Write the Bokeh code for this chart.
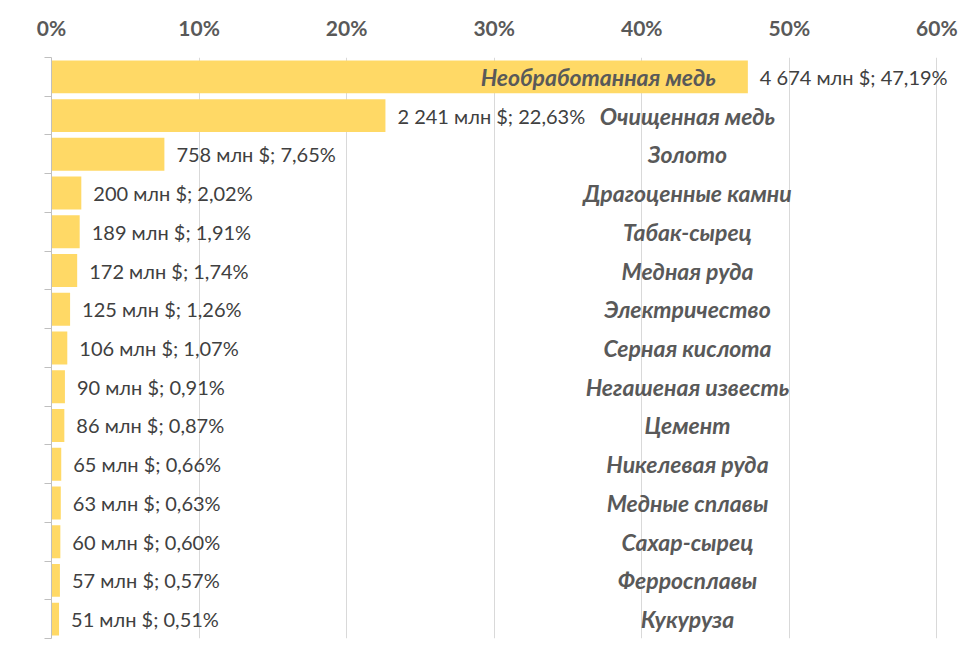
from bokeh.plotting import figure
from bokeh.models import ColumnDataSource, Range1d, FixedTicker, PrintfTickFormatter, LinearAxis
from bokeh.embed import file_html
from bokeh.resources import INLINE
from bokeh.core.properties import value

categories = ["Необработанная медь", "Очищенная медь", "Золото", "Драгоценные камни",
              "Табак-сырец", "Медная руда", "Электричество", "Серная кислота",
              "Негашеная известь", "Цемент", "Никелевая руда", "Медные сплавы",
              "Сахар-сырец", "Ферросплавы", "Кукуруза"]
values_mln = ["4 674", "2 241", "758", "200", "189", "172", "125", "106",
              "90", "86", "65", "63", "60", "57", "51"]
shares = [47.19, 22.63, 7.65, 2.02, 1.91, 1.74, 1.26, 1.07, 0.91, 0.87, 0.66, 0.63, 0.60, 0.57, 0.51]
x_ticks = [0, 10, 20, 30, 40, 50, 60]

FONT = "Lato"
n = len(categories)
ypos = list(range(1, n + 1))
labels = [f"{v} млн $; {('%.2f' % s).replace('.', ',')}%" for v, s in zip(values_mln, shares)]

src = ColumnDataSource(dict(y=ypos, share=shares, lab=labels, cat=categories))
src_first = ColumnDataSource(dict(y=ypos[:1], share=shares[:1], cat=categories[:1]))
src_rest = ColumnDataSource(dict(y=ypos[1:], share=shares[1:], cat=categories[1:],
                                 cx=[43.1] * (n - 1)))

p = figure(width=964, height=646, output_backend="svg", toolbar_location=None,
           x_range=Range1d(0, 61.6), y_range=Range1d(n + 0.5, 0.5),
           x_axis_location="above", y_axis_location=None,
           min_border_left=51, min_border_right=4, min_border_top=57, min_border_bottom=8)
p.outline_line_color = None
p.background_fill_color = "white"

xa = p.xaxis[0]
xa.ticker = FixedTicker(ticks=x_ticks)
xa.formatter = PrintfTickFormatter(format="%d%%")
xa.axis_line_color = None
xa.major_tick_line_color = None
xa.minor_tick_line_color = None
xa.major_label_text_font = FONT
xa.major_label_text_font_style = "bold"
xa.major_label_text_font_size = "21px"
xa.major_label_text_color = "#595959"
xa.major_label_standoff = 12

ya = LinearAxis(ticker=FixedTicker(ticks=[i + 0.5 for i in range(0, n + 1)]))
ya.axis_line_color = "#BFBFBF"
ya.major_tick_line_color = "#BFBFBF"
ya.major_tick_out = 7
ya.major_tick_in = 0
ya.minor_tick_line_color = None
ya.major_label_text_font_size = "0px"
ya.major_label_text_alpha = 0
p.add_layout(ya, "left")

p.xgrid.ticker = FixedTicker(ticks=x_ticks)
p.xgrid.grid_line_color = "#D9D9D9"
p.ygrid.grid_line_color = None

p.hbar(y="y", left=0, right="share", height=0.85, source=src,
       fill_color="#FFD966", line_color=None)

p.text(x="share", y="y", text="lab", source=src, x_offset=12,
       text_align="left", text_baseline="middle", text_font=value(FONT),
       text_font_size="20px", text_color="#404040")

p.text(x="share", y="y", text="cat", source=src_first, x_offset=-32,
       text_align="right", text_baseline="middle", text_font=value(FONT),
       text_font_style="bold italic", text_font_size="23px", text_color="#595959")
p.text(x="cx", y="y", text="cat", source=src_rest,
       text_align="center", text_baseline="middle", text_font=value(FONT),
       text_font_style="bold italic", text_font_size="23px", text_color="#595959")

open("out.html", "w").write(file_html(p, INLINE))
